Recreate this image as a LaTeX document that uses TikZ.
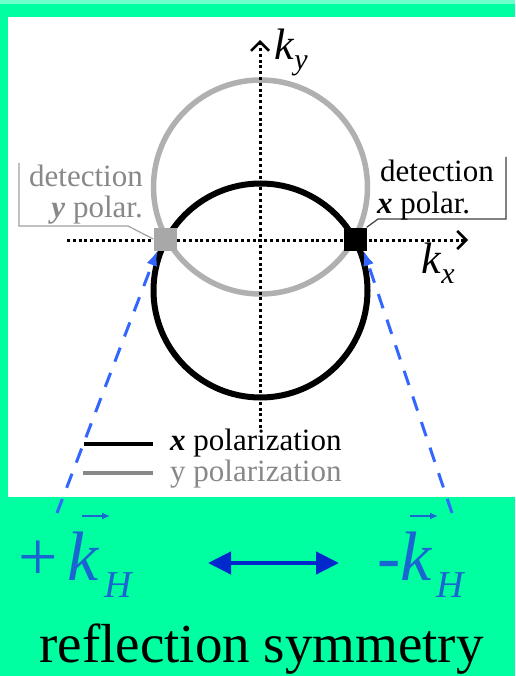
\documentclass[tikz,border=0pt]{standalone}
\usepackage{fontspec}
\setmainfont{Liberation Serif}
\usetikzlibrary{arrows.meta}
\definecolor{bggreen}{RGB}{0,255,160}
\definecolor{topgreen}{RGB}{110,255,205}
\definecolor{ringgray}{RGB}{176,176,176}
\definecolor{boxgray}{RGB}{168,168,168}
\definecolor{labelgray}{RGB}{136,136,136}
\definecolor{dashblue}{RGB}{51,102,255}
\definecolor{kblue}{RGB}{25,102,210}
\definecolor{arrowblue}{RGB}{0,40,204}
\tikzset{
  axis/.style={line width=3pt,dash pattern=on 3pt off 2.8pt,
    -{Straight Barb[length=9pt,width=18pt,line width=2.5pt]}},
  ring/.style={line width=5.5pt},
  detbox/.style={minimum size=23pt,inner sep=0pt},
  lbl/.style={inner sep=0pt,font=\fontsize{31}{31}\selectfont},
  beam/.style={dashblue,line width=3pt,dash pattern=on 15pt off 12pt,
    -{Latex[length=15pt,width=11pt]}},
  vecarrow/.style={kblue,line width=1.6pt,-{Latex[length=8pt,width=7pt]}},
  kvec/.style={kblue,inner sep=0pt,font=\fontsize{70}{70}\selectfont}
}
\begin{document}
\begin{tikzpicture}[x=1pt,y=-1pt]
  \fill[bggreen](0,0)rectangle(515,676);
  \fill[topgreen](0,0)rectangle(515,4);
  \fill[white](8,17)rectangle(515,497);
  % circles
  \draw[ring,ringgray](260.5,187)circle[radius=107pt];
  \draw[ring,black,line width=6pt](260.5,290.5)circle[radius=107pt];
  % axes
  \coordinate(Yb)at(260,428);
  \coordinate(Yt)at(260,40);
  \coordinate(Xl)at(67,240);
  \coordinate(Xr)at(468,240);
  \draw[axis](Yb)--(Yt);
  \draw[axis](Xl)--(Xr);
  \node[anchor=base west,inner sep=0pt,font=\fontsize{44}{44}\selectfont](ky)at(274,60)
    {\textit{k}\raisebox{-10pt}{\fontsize{30}{30}\selectfont\textit{y}}};
  \node[anchor=base west,inner sep=0pt,font=\fontsize{44}{44}\selectfont](kx)at(421,273)
    {\textit{k}\raisebox{-10pt}{\fontsize{30}{30}\selectfont\textit{x}}};
  % detection points
  \node[detbox,fill=boxgray](sqy)at(165,239){};
  \node[detbox,fill=black](sqx)at(355,239){};
  \draw[labelgray!80,line width=1.2pt](19,163)--(19,226)--(128,226)--(sqy.west);
  \draw[black!75,line width=1.2pt](506,157)--(506,219)--(378,219)--(sqx.north east);
  \node[lbl,labelgray,anchor=base east](dy1)at(143,187){detection};
  \node[lbl,labelgray,anchor=base east](dy2)at(143,217){\textbf{\textit{y}} polar.};
  \node[lbl,anchor=base west](dx1)at(380,182){detection};
  \node[lbl,anchor=base west](dx2)at(377,213){\textbf{\textit{x}} polar.};
  % legend
  \draw[black,line width=4pt](84,444)--(153,444);
  \draw[labelgray,line width=4pt](83,473)--(153,473);
  \node[lbl,anchor=base west](legx)at(170,450){\textbf{\textit{x}} polarization};
  \node[lbl,labelgray,anchor=base west](legy)at(170,481){y polarization};
  % wave vectors
  \coordinate(Bl)at(57,513);
  \coordinate(Br)at(452,513);
  \draw[beam](Bl)--([xshift=4pt]sqy.south west);
  \draw[beam](Br)--([xshift=-3pt]sqx.south east);
  \node[kvec,anchor=base west](kp)at(18,580)
    {+\hspace{10pt}\textit{k}\hspace{5pt}\raisebox{-17pt}{\fontsize{38}{38}\selectfont\textit{H}}};
  \node[kvec,anchor=base west](km)at(377,580)
    {-\textit{k}\hspace{4pt}\raisebox{-17pt}{\fontsize{38}{38}\selectfont\textit{H}}};
  \draw[vecarrow](82,516)--(110,516);
  \draw[vecarrow](410,516)--(438,516);
  \coordinate(Al)at(208,563);
  \coordinate(Ar)at(339,563);
  \draw[arrowblue,line width=4.5pt,
    {Triangle[length=23pt,width=22pt]}-{Triangle[length=23pt,width=22pt]}](Al)--(Ar);
  \node[inner sep=0pt,anchor=base,font=\fontsize{55}{55}\selectfont](refl)at(261.5,662)
    {reflection symmetry};
\end{tikzpicture}
\end{document}
